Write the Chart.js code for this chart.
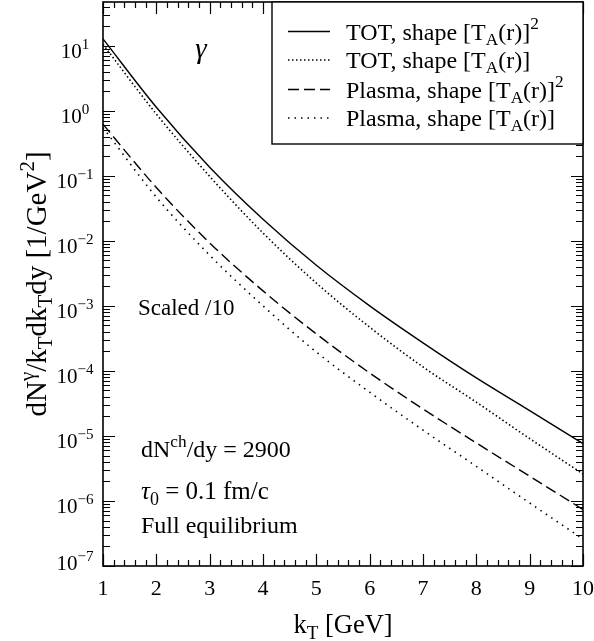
<!DOCTYPE html>
<html>
<head>
<meta charset="utf-8">
<script src="https://cdn.jsdelivr.net/npm/chart.js@4.4.0/dist/chart.umd.min.js"></script>
<style>
  html, body { margin: 0; padding: 0; background: #fff; }
  canvas { display: block; }
</style>
</head>
<body>
<canvas id="myChart" width="594" height="641"></canvas>
<script>
// photon spectra (TOT curves and plasma curves, plasma scaled /10)
const kT = [1, 2, 3, 4, 5, 6, 7, 8, 9, 10];
const totSquare = [12.7, 1.13, 0.135, 0.0214, 0.0042, 1.0e-3, 2.7e-4, 7.8e-5, 2.45e-5, 7.6e-6];
const totLinear = [10.5, 0.89, 0.098, 0.0132, 0.00224, 4.7e-4, 1.15e-4, 3.3e-5, 9.1e-6, 2.6e-6];
const plasmaSquare = [0.62, 0.066, 0.0093, 0.0017, 3.7e-4, 9.3e-5, 2.6e-5, 7.8e-6, 2.4e-6, 7.4e-7];
const plasmaLinear = [0.55, 0.047, 0.006, 0.001, 1.95e-4, 4.7e-5, 1.23e-5, 3.4e-6, 9.3e-7, 2.6e-7];

const seriesNames = [
  "TOT, shape [T_{A}(r)]^{2}",
  "TOT, shape [T_{A}(r)]",
  "Plasma, shape [T_{A}(r)]^{2}",
  "Plasma, shape [T_{A}(r)]"
];
const xTickLabels = ["1", "2", "3", "4", "5", "6", "7", "8", "9", "10"];
const yTickExponents = [-7, -6, -5, -4, -3, -2, -1, 0, 1];

const FONT = '"Liberation Serif", "Times New Roman", serif';

function parseRich(s) {
  return s.split(/(_\{[^}]*\}|\^\{[^}]*\}|~\{[^}]*\})/).filter(Boolean).map(function (p) {
    if (p.startsWith("_{")) return { t: p.slice(2, -1), m: "sub" };
    if (p.startsWith("^{")) return { t: p.slice(2, -1), m: "sup" };
    if (p.startsWith("~{")) return { t: p.slice(2, -1), m: "it" };
    return { t: p, m: "" };
  });
}

function drawRich(ctx, str, x, y, size, align) {
  const parts = parseRich(str);
  const fontFor = function (m) {
    const s = (m === "sub" || m === "sup") ? size * 0.72 : size;
    return (m === "it" ? "italic " : "") + s.toFixed(1) + "px " + FONT;
  };
  let w = 0;
  parts.forEach(function (p) { ctx.font = fontFor(p.m); p.w = ctx.measureText(p.t).width; w += p.w; });
  let cx = align === "center" ? x - w / 2 : (align === "right" ? x - w : x);
  ctx.textAlign = "left";
  ctx.textBaseline = "alphabetic";
  parts.forEach(function (p) {
    ctx.font = fontFor(p.m);
    const dy = p.m === "sub" ? size * 0.22 : (p.m === "sup" ? -size * 0.42 : 0);
    ctx.fillText(p.t, cx, y + dy);
    cx += p.w;
  });
}

const framePlugin = {
  id: "frame",
  afterDraw: function (chart) {
    const ctx = chart.ctx;
    const a = chart.chartArea;
    const xs = chart.scales.x, ys = chart.scales.y;
    ctx.save();
    ctx.fillStyle = "#000";
    ctx.strokeStyle = "#000";

    // ticks
    ctx.lineWidth = 1.2;
    ctx.beginPath();
    for (let k = 10; k <= 100; k += 2) {
      const px = Math.round(xs.getPixelForValue(k / 10)) + 0.5;
      const len = (k % 10 === 0) ? 12 : 6;
      ctx.moveTo(px, a.bottom); ctx.lineTo(px, a.bottom - len);
      ctx.moveTo(px, a.top); ctx.lineTo(px, a.top + len);
    }
    for (let e = -7; e <= 1; e++) {
      for (let m = 1; m <= 9; m++) {
        const v = m * Math.pow(10, e);
        if (v > ys.max) break;
        const py = Math.round(ys.getPixelForValue(v)) + 0.5;
        const len = m === 1 ? 12 : 7;
        ctx.moveTo(a.left, py); ctx.lineTo(a.left + len, py);
        ctx.moveTo(a.right, py); ctx.lineTo(a.right - len, py);
      }
    }
    ctx.stroke();

    // frame
    ctx.lineWidth = 1.6;
    ctx.strokeRect(a.left, a.top, a.right - a.left, a.bottom - a.top);

    // x tick labels
    xTickLabels.forEach(function (lab, i) {
      drawRich(ctx, lab, xs.getPixelForValue(kT[i]), 595, 22, "center");
    });
    // y tick labels
    yTickExponents.forEach(function (e) {
      const py = ys.getPixelForValue(Math.pow(10, e));
      const base = Math.min(py + 12, 570);
      drawRich(ctx, "10^{" + (e < 0 ? "\u2212" + (-e) : e) + "}", 75, base, 21, "center");
    });

    // axis titles
    drawRich(ctx, "k_{T} [GeV]", (a.left + a.right) / 2, 633, 26.5, "center");
    ctx.save();
    ctx.translate(46, (a.top + a.bottom) / 2);
    ctx.rotate(-Math.PI / 2);
    drawRich(ctx, "dN^{\u03b3}/k_{T}dk_{T}dy [1/GeV^{2}]", 0, 0, 29, "center");
    ctx.restore();

    // annotations
    drawRich(ctx, "~{\u03b3}", 201, 58, 29, "center");
    drawRich(ctx, "Scaled /10", 138, 315, 23, "left");
    drawRich(ctx, "dN^{ch}/dy = 2900", 141, 457, 24, "left");
    drawRich(ctx, "~{\u03c4}_{0} = 0.1 fm/c", 141, 499, 25, "left");
    drawRich(ctx, "Full equilibrium", 141, 533, 24, "left");

    // legend box
    const lx = 272, ly = a.top, lw = a.right - 272, lh = 142;
    ctx.fillStyle = "#fff";
    ctx.fillRect(lx, ly, lw, lh);
    ctx.lineWidth = 1.4;
    ctx.strokeRect(lx, ly, lw, lh);
    ctx.fillStyle = "#000";
    const rowY = [31.5, 60, 89.5, 118];
    chart.data.datasets.forEach(function (ds, i) {
      ctx.save();
      ctx.lineWidth = ds.borderWidth;
      ctx.setLineDash(ds.borderDash || []);
      ctx.beginPath();
      ctx.moveTo(288, rowY[i]);
      ctx.lineTo(330, rowY[i]);
      ctx.stroke();
      ctx.restore();
      drawRich(ctx, seriesNames[i], 346, rowY[i] + 8, 24, "left");
    });
    ctx.restore();
  }
};

const seriesValues = [totSquare, totLinear, plasmaSquare, plasmaLinear];
const seriesDash = [[], [1.5, 2.5], [11, 5], [1.5, 5]];

const myChart = document.getElementById("myChart").getContext("2d");
const photonChart = new Chart(myChart, {
  type: "line",
  data: {
    datasets: seriesValues.map(function (vals, i) {
      return {
        label: seriesNames[i],
        data: kT.map(function (x, j) { return { x: x, y: vals[j] }; }),
        borderColor: "#000",
        borderWidth: i % 2 === 1 ? 1.6 : 1.4,
        borderDash: seriesDash[i],
        pointRadius: 0,
        fill: false,
        cubicInterpolationMode: "monotone"
      };
    })
  },
  options: {
    responsive: false,
    animation: false,
    devicePixelRatio: 1,
    layout: { padding: { left: 103, right: 11, top: 2, bottom: 75 } },
    scales: {
      x: { type: "linear", min: 1, max: 10, display: false },
      y: { type: "logarithmic", min: 1e-7, max: 47, display: false }
    },
    plugins: {
      legend: { display: false },
      tooltip: { enabled: false }
    }
  },
  plugins: [framePlugin]
});
</script>
</body>
</html>
